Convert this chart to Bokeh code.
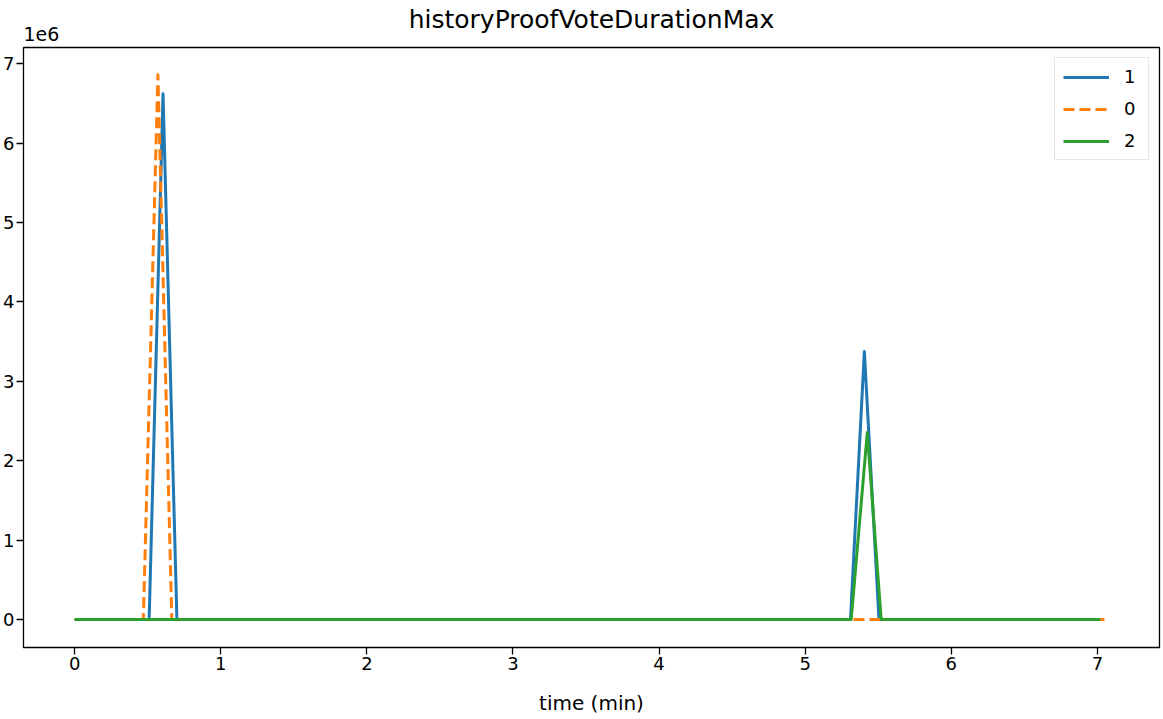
from bokeh.plotting import figure
from bokeh.models import Range1d, FixedTicker, CustomJSTickFormatter, Legend, LegendItem, Label
from bokeh.embed import file_html
from bokeh.resources import INLINE

# ---- data (time in minutes, values) ----
series_names = ["1", "0", "2"]
blue_t = [0.0, 0.51, 0.605, 0.70, 5.31, 5.405, 5.505, 7.0]
blue_v = [0, 0, 6.62e6, 0, 0, 3.375e6, 0, 0]
orange_t = [0.0, 0.47, 0.57, 0.665, 7.05]
orange_v = [0, 0, 6.86e6, 0, 0]
green_t = [0.0, 5.315, 5.425, 5.52, 7.02]
green_v = [0, 0, 2.355e6, 0, 0]
x_ticks = [0, 1, 2, 3, 4, 5, 6, 7]
y_ticks = [0, 1e6, 2e6, 3e6, 4e6, 5e6, 6e6, 7e6]

FONT = "DejaVu Sans"
X0, X1 = -0.35, 7.425
Y0, Y1 = -0.353e6, 7.204e6

p = figure(
    frame_width=1136, frame_height=600,
    output_backend="svg", toolbar_location=None,
    x_range=Range1d(X0, X1), y_range=Range1d(Y0, Y1),
    title="historyProofVoteDurationMax",
    min_border_left=16, min_border_right=3, min_border_top=47, min_border_bottom=60,
)
p.title.align = "center"
p.title.text_font = FONT
p.title.text_font_style = "normal"
p.title.text_font_size = "25px"
p.title.text_color = "black"
p.title.standoff = 0

p.xgrid.visible = False
p.ygrid.visible = False
p.outline_line_color = "black"
p.outline_line_width = 1.3
p.outline_line_alpha = 1.0

for ax in (p.xaxis[0], p.yaxis[0]):
    ax.axis_line_color = None
    ax.major_tick_line_color = "black"
    ax.major_tick_line_width = 1.3
    ax.major_tick_out = 7
    ax.major_tick_in = 0
    ax.minor_tick_line_color = None
    ax.major_label_text_font = FONT
    ax.major_label_text_font_size = "18px"
    ax.major_label_text_color = "black"

p.xaxis.ticker = FixedTicker(ticks=x_ticks)
p.yaxis.ticker = FixedTicker(ticks=y_ticks)
p.yaxis.formatter = CustomJSTickFormatter(code="return (tick/1e6).toFixed(0);")
p.yaxis.major_label_standoff = 2
p.xaxis.major_label_standoff = 2
p.xaxis.axis_label = "time (min)"
p.xaxis.axis_label_text_font = FONT
p.xaxis.axis_label_text_font_style = "normal"
p.xaxis.axis_label_text_font_size = "20px"
p.xaxis.axis_label_text_color = "black"
p.xaxis.axis_label_standoff = 18

r1 = p.line(blue_t, blue_v, line_color="#1f77b4", line_width=3, line_join="round")
r0 = p.line(orange_t, orange_v, line_color="#ff7f0e", line_width=3, line_dash="11 5", line_join="round")
r2 = p.line(green_t, green_v, line_color="#2ca02c", line_width=3, line_join="round")

legend = Legend(items=[
    LegendItem(label=series_names[0], renderers=[r1]),
    LegendItem(label=series_names[1], renderers=[r0]),
    LegendItem(label=series_names[2], renderers=[r2]),
], location="top_right")
legend.margin = 10
legend.padding = 8
legend.spacing = 11
legend.glyph_width = 46
legend.glyph_height = 20
legend.label_standoff = 15
legend.label_width = 16
legend.label_text_font = FONT
legend.label_text_font_size = "18px"
legend.label_text_color = "black"
legend.border_line_color = "#cccccc"
legend.border_line_width = 1.5
legend.background_fill_alpha = 0.8
p.add_layout(legend, "center")

p.add_layout(Label(x=0, y=0, x_units="screen", y_units="screen", text="1e6",
                   text_font=FONT, text_font_size="19px", text_color="black",
                   text_baseline="bottom", y_offset=7, x_offset=0), "above")

open("out.html", "w").write(file_html(p, INLINE))
